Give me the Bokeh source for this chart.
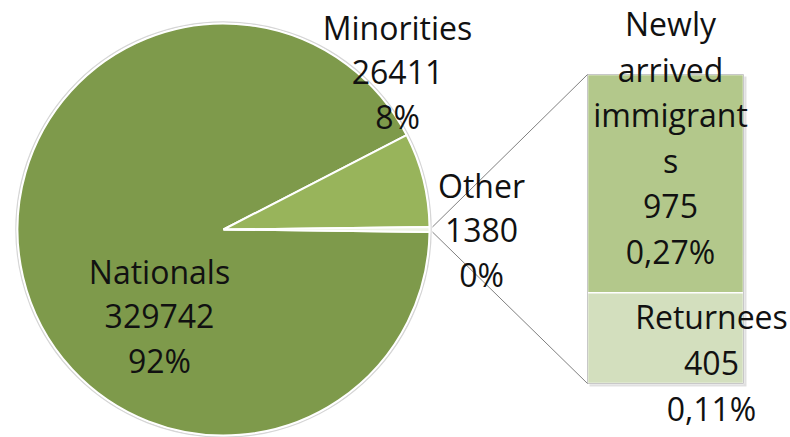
import math
from bokeh.plotting import figure
from bokeh.models import Range1d, ColumnDataSource
from bokeh.core.properties import value
from bokeh.embed import file_html
from bokeh.resources import INLINE

# ---- data ----
categories = ["Nationals", "Minorities", "Other"]
counts = [329742, 26411, 1380]
pct_labels = ["92%", "8%", "0%"]

sub_categories = ["Newly arrived immigrants", "Returnees"]
sub_counts = [975, 405]
sub_pct_labels = ["0,27%", "0,11%"]
sub_name_lines = [["Newly", "arrived", "immigrant", "s"], ["Returnees"]]

# ---- styles ----
colors = ["#7E9A4B", "#98B45B", "#EEF3E4"]
sub_colors = ["#B3C88B", "#D3DFBE"]
FONT = "Open Sans"
FSIZE = "32px"
BASE_SHIFT = -12  # compensate Bokeh's baseline placement

W, H = 790, 437
PH = 437  # page height used for flipping pixel rows into data y


def fy(pix):
    return PH - pix


p = figure(width=W, height=H, x_range=Range1d(0, W), y_range=Range1d(0, H),
           output_backend="svg", toolbar_location=None, min_border=0,
           x_axis_location=None, y_axis_location=None)
p.grid.visible = False
p.outline_line_color = None

# ---- pie ----
cx, cy, r = 223, fy(229), 206
total = sum(counts)
ang = [2 * math.pi * v / total for v in counts]
other_half = ang[2] / 2
s_min = other_half
e_min = s_min + ang[1]
starts = [e_min, s_min, -other_half]
ends = [2 * math.pi - other_half, e_min, other_half]

p.circle(x=[cx], y=[cy], radius=r + 1.5, fill_color=None, line_color="#D6D6D6", line_width=1.5)
pie_src = ColumnDataSource(dict(x=[cx] * 3, y=[cy] * 3, start=starts, end=ends, color=colors))
p.wedge(x="x", y="y", radius=r, start_angle="start", end_angle="end", fill_color="color",
        line_color="white", line_width=2, source=pie_src)

# ---- bar of pie ----
bx0, bx1 = 587, 743
b_bot, b_top = fy(383), fy(74)
scale = (b_top - b_bot) / sum(sub_counts)
bottoms = [b_bot + sub_counts[1] * scale, b_bot]
tops = [b_top, b_bot + sub_counts[1] * scale]

# shadow
p.quad(left=[bx0 + 2], right=[bx1 + 3], bottom=[b_bot - 3], top=[b_top - 2],
       fill_color="#000000", fill_alpha=0.12, line_color=None)
bar_src = ColumnDataSource(dict(left=[bx0] * 2, right=[bx1] * 2, bottom=bottoms, top=tops, color=sub_colors))
p.quad(left="left", right="right", bottom="bottom", top="top", fill_color="color",
       line_color="white", line_width=1.5, source=bar_src)
p.quad(left=[bx0], right=[bx1], bottom=[b_bot], top=[b_top], fill_color=None,
       line_color="#C8C8C8", line_width=1)

# connector lines
rr = r + 3
ux, uy = cx + rr * math.cos(other_half), cy + rr * math.sin(other_half)
lx, ly = cx + rr * math.cos(-other_half), cy + rr * math.sin(-other_half)
p.segment(x0=[ux, lx], y0=[uy, ly], x1=[bx0, bx0], y1=[b_top, b_bot], line_color="#808080", line_width=1)

# ---- labels ----
tx, ty, tt = [], [], []


def add_label(lines, x, first_baseline_pix, spacing):
    for i, s in enumerate(lines):
        tx.append(x)
        ty.append(fy(first_baseline_pix + BASE_SHIFT + i * spacing))
        tt.append(s)


anchors = [(159, 283), (397, 39), (481, 197)]
for i, name in enumerate(categories):
    add_label([name, str(counts[i]), pct_labels[i]], anchors[i][0], anchors[i][1], 44.5)

sub_anchors = [(670, 35, 45.6), (711, 328, 46)]
for i, name in enumerate(sub_categories):
    a = sub_anchors[i]
    add_label(sub_name_lines[i] + [str(sub_counts[i]), sub_pct_labels[i]], a[0], a[1], a[2])

p.text(x=tx, y=ty, text=tt, text_font=value(FONT), text_font_size=FSIZE,
       text_align="center", text_baseline="alphabetic", text_color="#111111")

open("out.html", "w").write(file_html(p, INLINE))
